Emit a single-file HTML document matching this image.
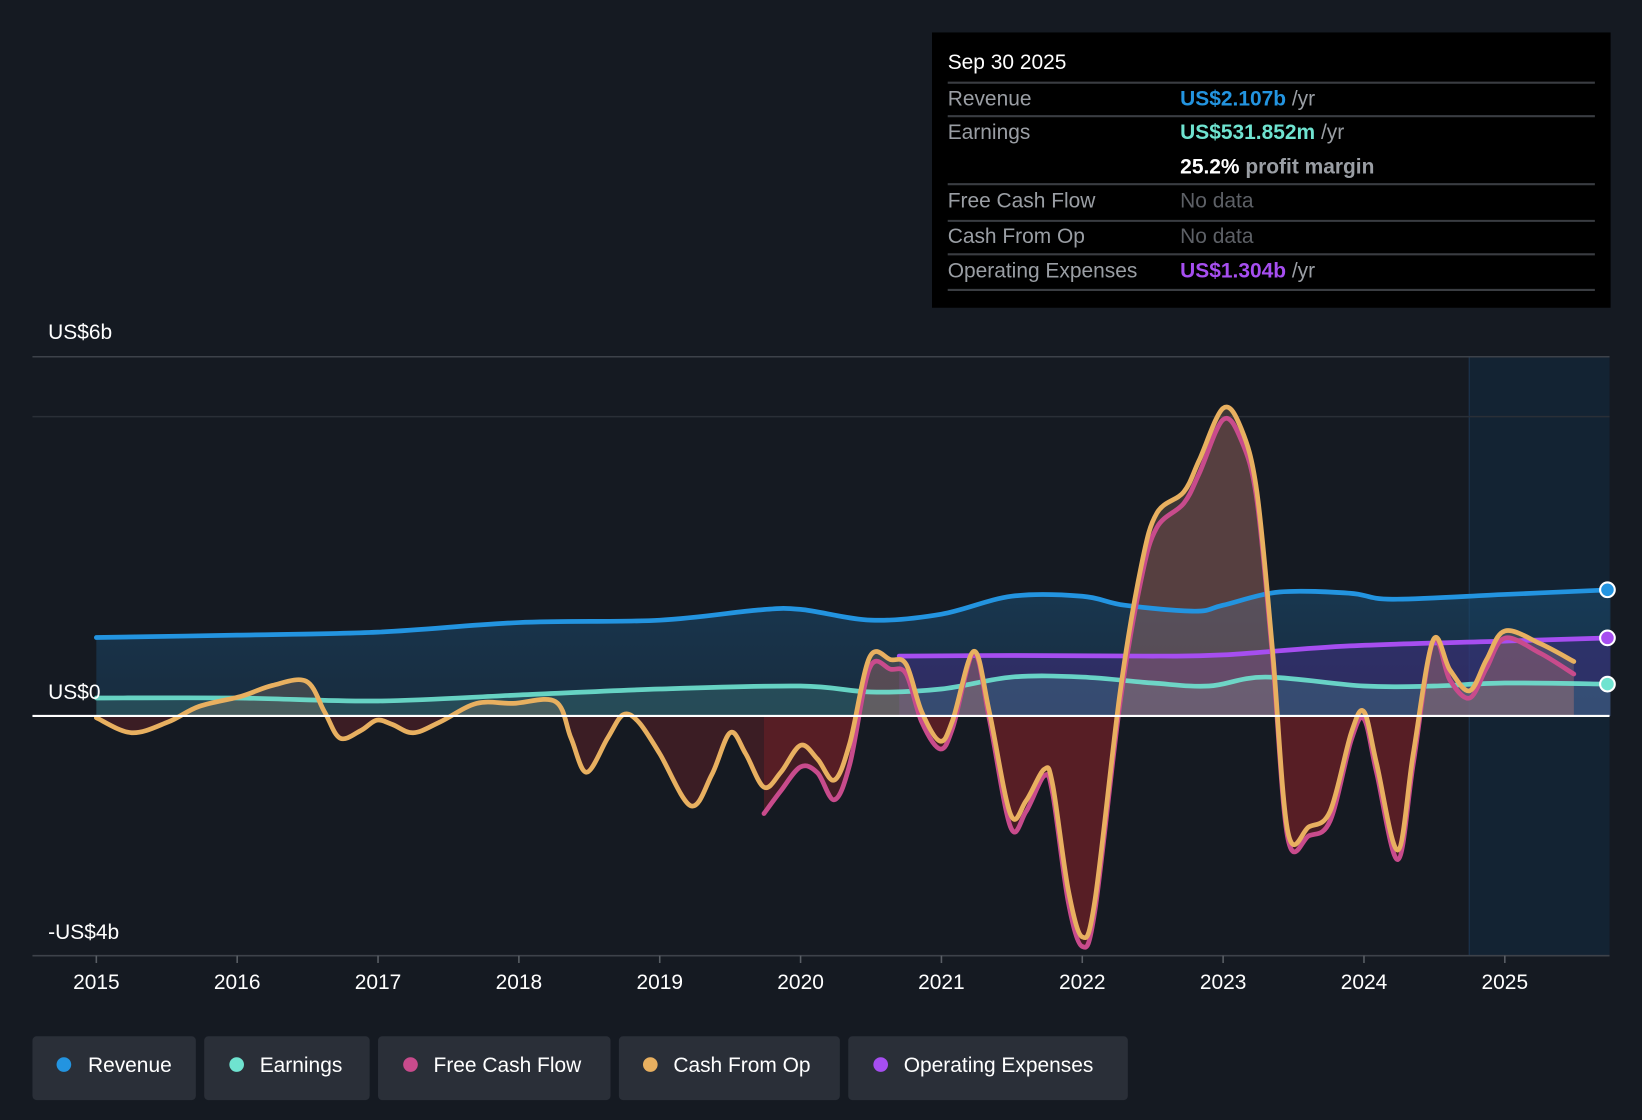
<!DOCTYPE html>
<html><head><meta charset="utf-8"><style>
html,body{margin:0;padding:0;background:#151a22;}
svg{display:block;font-family:"Liberation Sans",sans-serif;}
</style></head><body>
<svg id="chart" width="1642" height="1120" viewBox="0 0 1568 1070" preserveAspectRatio="none" xmlns="http://www.w3.org/2000/svg">
<defs>
<clipPath id="clipPos"><rect x="0" y="0" width="1568" height="684"/></clipPath>
<clipPath id="clipNeg"><rect x="0" y="684" width="1568" height="400"/></clipPath>
<linearGradient id="revGrad" x1="0" y1="0" x2="0" y2="1"><stop offset="0" stop-color="#1a4a6e" stop-opacity="0.6"/><stop offset="1" stop-color="#1a3d5a" stop-opacity="0.5"/></linearGradient>
</defs>
<rect x="0" y="0" width="1568" height="1070" fill="#151a22"/>
<rect x="1403" y="341" width="134" height="572" fill="#13283a" opacity="0.7"/>
<line x1="1403" y1="341" x2="1403" y2="913" stroke="#1d3550" stroke-width="1"/>
<g id="grid"></g>
<g id="areas"></g>
<g id="lines"></g>
<g id="axes"></g>

<g>
<rect x="890" y="31" width="648" height="263" fill="#000"/>
<text x="905" y="66" fill="#fff" font-size="20">Sep 30 2025</text>
<g stroke="#3a3d42" stroke-width="2">
<line x1="905" y1="79" x2="1523" y2="79"/><line x1="905" y1="111" x2="1523" y2="111"/><line x1="905" y1="176" x2="1523" y2="176"/><line x1="905" y1="211" x2="1523" y2="211"/><line x1="905" y1="243" x2="1523" y2="243"/><line x1="905" y1="277" x2="1523" y2="277"/>
</g>
<g font-size="20" fill="#9a9ea4">
<text x="905" y="101">Revenue</text>
<text x="905" y="133">Earnings</text>
<text x="905" y="198">Free Cash Flow</text>
<text x="905" y="232">Cash From Op</text>
<text x="905" y="265">Operating Expenses</text>
</g>
<text x="1127" y="101" font-size="20"><tspan fill="#2394e0" font-weight="bold">US$2.107b</tspan><tspan fill="#9a9ea4"> /yr</tspan></text>
<text x="1127" y="133" font-size="20"><tspan fill="#6fe3d0" font-weight="bold">US$531.852m</tspan><tspan fill="#9a9ea4"> /yr</tspan></text>
<text x="1127" y="166" font-size="20"><tspan fill="#fff" font-weight="bold">25.2%</tspan><tspan fill="#9a9ea4" font-weight="bold"> profit margin</tspan></text>
<text x="1127" y="198" font-size="20" fill="#5d6066">No data</text>
<text x="1127" y="232" font-size="20" fill="#5d6066">No data</text>
<text x="1127" y="265" font-size="20"><tspan fill="#a64ef0" font-weight="bold">US$1.304b</tspan><tspan fill="#9a9ea4"> /yr</tspan></text>
</g>

<g font-size="20" fill="#fff">
<g><rect x="31" y="990" width="156" height="61" rx="4" fill="#2a2f38"/><circle cx="61" cy="1017" r="7" fill="#2394e0"/><text x="84" y="1024">Revenue</text></g>
<g><rect x="195" y="990" width="158" height="61" rx="4" fill="#2a2f38"/><circle cx="226" cy="1017" r="7" fill="#6fe3d0"/><text x="248" y="1024">Earnings</text></g>
<g><rect x="361" y="990" width="222" height="61" rx="4" fill="#2a2f38"/><circle cx="392" cy="1017" r="7" fill="#c84b8c"/><text x="414" y="1024">Free Cash Flow</text></g>
<g><rect x="591" y="990" width="211" height="61" rx="4" fill="#2a2f38"/><circle cx="621" cy="1017" r="7" fill="#e8b060"/><text x="643" y="1024">Cash From Op</text></g>
<g><rect x="810" y="990" width="267" height="61" rx="4" fill="#2a2f38"/><circle cx="841" cy="1017" r="7" fill="#a64ef0"/><text x="863" y="1024">Operating Expenses</text></g>
</g>
</svg>
<script>
const revYears=[2015,2016,2017,2018,2019,2019.7,2020,2020.5,2021,2021.5,2022,2022.3,2022.8,2023,2023.4,2023.9,2024.2,2025,2025.75];
const revVals=[1.31,1.35,1.40,1.56,1.60,1.77,1.78,1.60,1.70,2.00,2.00,1.85,1.75,1.85,2.07,2.05,1.95,2.03,2.107];
const earnYears=[2015,2016,2017,2018,2019,2020,2020.5,2021,2021.5,2022,2022.5,2022.9,2023.3,2024,2024.5,2025,2025.75];
const earnVals=[0.30,0.30,0.25,0.35,0.45,0.50,0.40,0.45,0.65,0.65,0.55,0.50,0.65,0.50,0.50,0.55,0.532];
const opexYears=[2020.7,2021.5,2022.5,2023.0,2023.9,2025,2025.75];
const opexVals=[1.00,1.01,1.00,1.02,1.17,1.25,1.304];
const cfoYears=[2015,2015.25,2015.51,2015.73,2016.03,2016.25,2016.49,2016.62,2016.73,2016.88,2016.99,2017.10,2017.25,2017.44,2017.70,2017.96,2018.26,2018.37,2018.48,2018.63,2018.74,2018.85,2019.00,2019.22,2019.37,2019.50,2019.61,2019.74,2019.86,2020.00,2020.12,2020.24,2020.35,2020.49,2020.64,2020.75,2020.86,2020.99,2021.08,2021.23,2021.34,2021.49,2021.60,2021.73,2021.79,2021.90,2022.00,2022.09,2022.27,2022.42,2022.53,2022.72,2022.83,2023.00,2023.13,2023.24,2023.35,2023.46,2023.61,2023.76,2023.91,2024.00,2024.09,2024.24,2024.35,2024.49,2024.61,2024.75,2024.87,2025.00,2025.25,2025.49];
const cfoVals=[-0.03,-0.28,-0.10,0.16,0.33,0.51,0.58,0.07,-0.37,-0.24,-0.07,-0.14,-0.28,-0.10,0.21,0.21,0.24,-0.37,-0.94,-0.37,0.02,-0.10,-0.63,-1.50,-0.98,-0.28,-0.63,-1.19,-0.94,-0.49,-0.72,-1.07,-0.45,0.98,0.94,0.86,0.07,-0.42,-0.07,1.08,0.07,-1.64,-1.42,-0.89,-1.15,-2.90,-3.69,-3.08,0.42,2.52,3.39,3.74,4.27,5.14,4.79,3.74,1.12,-1.94,-1.85,-1.59,-0.28,0.07,-0.80,-2.24,-0.63,1.26,0.77,0.42,0.94,1.42,1.21,0.91];
const fcfYears=[2019.74,2019.86,2020.00,2020.12,2020.24,2020.35,2020.49,2020.64,2020.75,2020.86,2020.99,2021.08,2021.23,2021.34,2021.49,2021.60,2021.73,2021.79,2021.90,2022.00,2022.09,2022.27,2022.42,2022.53,2022.72,2022.83,2023.00,2023.13,2023.24,2023.35,2023.46,2023.61,2023.76,2023.91,2024.00,2024.09,2024.24,2024.35,2024.49,2024.61,2024.75,2024.87,2025.00,2025.25,2025.49];
const fcfVals=[-1.63,-1.25,-0.85,-0.95,-1.40,-0.80,0.80,0.78,0.70,-0.10,-0.55,-0.20,1.05,-0.05,-1.85,-1.60,-1.00,-1.30,-3.10,-3.85,-3.25,0.25,2.30,3.15,3.55,4.05,4.95,4.60,3.60,1.00,-2.05,-2.00,-1.75,-0.40,-0.05,-0.95,-2.40,-0.80,1.25,0.60,0.30,0.80,1.30,1.05,0.70];
const xTicks=[2015,2016,2017,2018,2019,2020,2021,2022,2023,2024,2025];
const yLabels=[{v:6,t:"US$6b"},{v:0,t:"US$0"},{v:-4,t:"-US$4b"}];
const gridVals=[6,5];

const NS="http://www.w3.org/2000/svg";
function X(yr){return 92+(yr-2015)*134.5;}
function Y(v){return 684-v*57.2;}
function mk(tag,attrs,parent){const e=document.createElementNS(NS,tag);for(const k in attrs)e.setAttribute(k,attrs[k]);parent.appendChild(e);return e;}
function smooth(xs,vs){
  const p=xs.map((x,i)=>[X(x),Y(vs[i])]);
  let d="M"+p[0][0]+","+p[0][1];
  for(let i=0;i<p.length-1;i++){
    const p0=p[i-1]||p[i],p1=p[i],p2=p[i+1],p3=p[i+2]||p2;
    const c1=[p1[0]+(p2[0]-p0[0])/6,p1[1]+(p2[1]-p0[1])/6];
    const c2=[p2[0]-(p3[0]-p1[0])/6,p2[1]-(p3[1]-p1[1])/6];
    d+=" C"+c1[0]+","+c1[1]+" "+c2[0]+","+c2[1]+" "+p2[0]+","+p2[1];
  }
  return d;
}
function area(xs,vs){return smooth(xs,vs)+" L"+X(xs[xs.length-1])+","+Y(0)+" L"+X(xs[0])+","+Y(0)+" Z";}

const grid=document.getElementById('grid');
gridVals.forEach(v=>{const l=mk('line',{x1:31,x2:1537,y1:Y(v),y2:Y(v),stroke:v===6?'#3d424a':'#2a2f37','stroke-width':1.5},grid);

});

const areas=document.getElementById('areas');
let a;
a=mk('path',{d:area(revYears,revVals),fill:'url(#revGrad)'},areas);


a=mk('path',{d:area(opexYears,opexVals),fill:'#4a2f8c',opacity:0.45},areas);


a=mk('path',{d:area(earnYears,earnVals),fill:'#4fa8a0',opacity:0.25},areas);


a=mk('path',{d:area(cfoYears,cfoVals),fill:'#c9a07a',opacity:0.22,'clip-path':'url(#clipPos)'},areas);


a=mk('path',{d:area(cfoYears,cfoVals),fill:'#6b2228',opacity:0.45,'clip-path':'url(#clipNeg)'},areas);


a=mk('path',{d:area(fcfYears,fcfVals),fill:'#c06070',opacity:0.2,'clip-path':'url(#clipPos)'},areas);


a=mk('path',{d:area(fcfYears,fcfVals),fill:'#7a2228',opacity:0.45,'clip-path':'url(#clipNeg)'},areas);



const lines=document.getElementById('lines');
function line(xs,vs,color,name,w,op){const l=mk('path',{d:smooth(xs,vs),fill:'none',stroke:color,'stroke-width':w,'stroke-linecap':'round',opacity:op},lines);

}
line(revYears,revVals,'#2394e0','revenue-line',4.5,1);
line(earnYears,earnVals,'#6fe3d0','earnings-line',4.5,0.9);
line(opexYears,opexVals,'#a64ef0','opex-line',4.5,1);
line(fcfYears,fcfVals,'#c84b8c','fcf-line',4.5,1);
line(cfoYears,cfoVals,'#e8b060','cfo-line',4.5,1);

const z=mk('line',{x1:31,x2:1537,y1:Y(0),y2:Y(0),stroke:'#ffffff','stroke-width':2},lines);



[[revVals,'#2394e0','revenue-end-dot'],[earnVals,'#6fe3d0','earnings-end-dot'],[opexVals,'#a64ef0','opex-end-dot']].forEach(([vs,c,n])=>{
  const d=mk('circle',{cx:1535,cy:Y(vs[vs.length-1]),r:7,fill:c,stroke:'#fff','stroke-width':2},lines);
  
  
});

const axes=document.getElementById('axes');
const base=mk('line',{x1:31,x2:1537,y1:913,y2:913,stroke:'#3d424a','stroke-width':1.5},axes);


xTicks.forEach(t=>{
  const tk=mk('line',{x1:X(t),x2:X(t),y1:913,y2:920,stroke:'#5a5f66','stroke-width':1.5},axes);
  
  
  const tx=mk('text',{x:X(t),y:945,fill:'#fff','font-size':20,'text-anchor':'middle'},axes);
  tx.textContent=t;
  
  
});
yLabels.forEach(o=>{
  const yy=o.v===6?324:o.v===0?668:897;
  const tx=mk('text',{x:46,y:yy,fill:'#fff','font-size':20},axes);
  tx.textContent=o.t;
  
  
});
</script>
</body></html>
